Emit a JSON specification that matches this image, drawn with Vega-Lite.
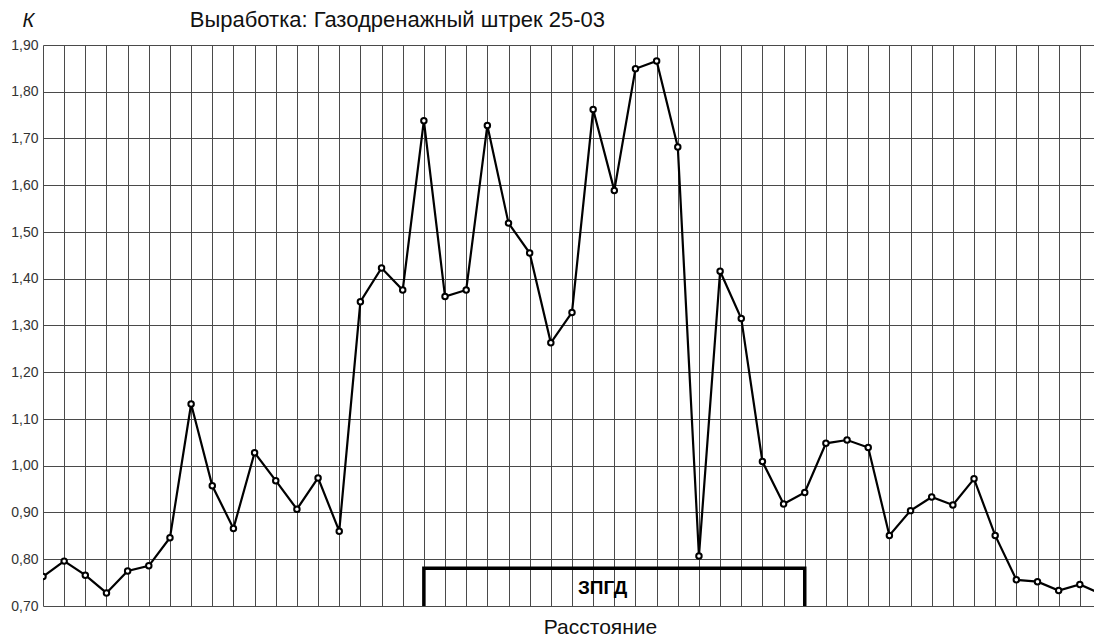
{
  "$schema": "https://vega.github.io/schema/vega-lite/v6.json",
  "width": 1051,
  "height": 561,
  "autosize": {"type": "none"},
  "padding": {"left": 43, "top": 45, "right": 0, "bottom": 31},
  "background": "white",
  "config": {"view": {"stroke": null}, "font": "Liberation Sans"},
  "title": {"text": "Выработка: Газодренажный штрек 25-03", "anchor": "start", "dx": 179, "dy": 42, "offset": 20, "fontSize": 22, "font": "Liberation Sans", "fontWeight": "normal", "color": "#111"},
  "datasets": {
    "main": [
      {"i": 0, "k": 0.763}, {"i": 1, "k": 0.796}, {"i": 2, "k": 0.766}, {"i": 3, "k": 0.728}, {"i": 4, "k": 0.775},
      {"i": 5, "k": 0.786}, {"i": 6, "k": 0.846}, {"i": 7, "k": 1.132}, {"i": 8, "k": 0.957}, {"i": 9, "k": 0.866},
      {"i": 10, "k": 1.028}, {"i": 11, "k": 0.968}, {"i": 12, "k": 0.907}, {"i": 13, "k": 0.974}, {"i": 14, "k": 0.860},
      {"i": 15, "k": 1.351}, {"i": 16, "k": 1.423}, {"i": 17, "k": 1.376}, {"i": 18, "k": 1.738}, {"i": 19, "k": 1.362},
      {"i": 20, "k": 1.376}, {"i": 21, "k": 1.728}, {"i": 22, "k": 1.519}, {"i": 23, "k": 1.455}, {"i": 24, "k": 1.263},
      {"i": 25, "k": 1.328}, {"i": 26, "k": 1.762}, {"i": 27, "k": 1.589}, {"i": 28, "k": 1.849}, {"i": 29, "k": 1.866},
      {"i": 30, "k": 1.682}, {"i": 31, "k": 0.807}, {"i": 32, "k": 1.416}, {"i": 33, "k": 1.315}, {"i": 34, "k": 1.009},
      {"i": 35, "k": 0.918}, {"i": 36, "k": 0.943}, {"i": 37, "k": 1.048}, {"i": 38, "k": 1.055}, {"i": 39, "k": 1.039},
      {"i": 40, "k": 0.851}, {"i": 41, "k": 0.904}, {"i": 42, "k": 0.933}, {"i": 43, "k": 0.916}, {"i": 44, "k": 0.972},
      {"i": 45, "k": 0.851}, {"i": 46, "k": 0.756}, {"i": 47, "k": 0.752}, {"i": 48, "k": 0.733}, {"i": 49, "k": 0.746},
      {"i": 50, "k": 0.726}
    ],
    "bracket": [
      {"o": 1, "i": 18, "k": 0.70}, {"o": 2, "i": 18, "k": 0.781}, {"o": 3, "i": 36, "k": 0.781}, {"o": 4, "i": 36, "k": 0.70}
    ],
    "label": [{"i": 26.45, "k": 0.738, "t": "ЗПГД"}]
  },
  "encoding": {
    "x": {
      "field": "i", "type": "quantitative",
      "scale": {"domain": [0, 49.67], "nice": false, "zero": false},
      "axis": {
        "values": [0,1,2,3,4,5,6,7,8,9,10,11,12,13,14,15,16,17,18,19,20,21,22,23,24,25,26,27,28,29,30,31,32,33,34,35,36,37,38,39,40,41,42,43,44,45,46,47,48,49],
        "labels": false, "ticks": false, "domain": false, "grid": true,
        "gridColor": "#4a4a4a", "gridWidth": 1, "gridOpacity": 1,
        "title": "Расстояние", "titleX": 557, "titleY": 21, "titleAlign": "center", "titleBaseline": "middle",
        "titleFontSize": 21, "titleFontWeight": "normal", "titleFont": "Liberation Sans", "titleColor": "#111"
      }
    },
    "y": {
      "field": "k", "type": "quantitative",
      "scale": {"domain": [0.7, 1.9], "nice": false, "zero": false},
      "axis": {
        "values": [0.7, 0.8, 0.9, 1.0, 1.1, 1.2, 1.3, 1.4, 1.5, 1.6, 1.7, 1.8, 1.9],
        "labelExpr": "replace(format(datum.value, '.2f'), '.', ',')",
        "ticks": false, "domain": false, "grid": true,
        "gridColor": "#4a4a4a", "gridWidth": 1, "gridOpacity": 1,
        "labelFont": "Liberation Sans", "labelFontSize": 14, "labelColor": "#333", "labelPadding": 5,
        "title": "К", "titleAngle": 0, "titleX": -15, "titleY": -25, "titleAlign": "center", "titleBaseline": "middle",
        "titleFontStyle": "italic", "titleFontSize": 20, "titleFontWeight": "normal", "titleColor": "#111", "titleFont": "Liberation Sans"
      }
    }
  },
  "layer": [
    {
      "data": {"name": "bracket"},
      "mark": {"type": "line", "color": "black", "strokeWidth": 3.5, "strokeCap": "butt", "strokeJoin": "miter", "clip": true},
      "encoding": {"order": {"field": "o", "type": "quantitative"}}
    },
    {
      "data": {"name": "label"},
      "mark": {"type": "text", "fontSize": 19, "fontWeight": "bold", "font": "Liberation Sans", "color": "black", "align": "center", "baseline": "middle"},
      "encoding": {"text": {"field": "t"}}
    },
    {
      "data": {"name": "main"},
      "mark": {"type": "line", "color": "black", "strokeWidth": 2.2, "clip": true},
      "encoding": {}
    },
    {
      "data": {"name": "main"},
      "mark": {"type": "point", "filled": true, "fill": "white", "stroke": "black", "strokeWidth": 2, "size": 30, "opacity": 1, "clip": true},
      "encoding": {}
    }
  ]
}
